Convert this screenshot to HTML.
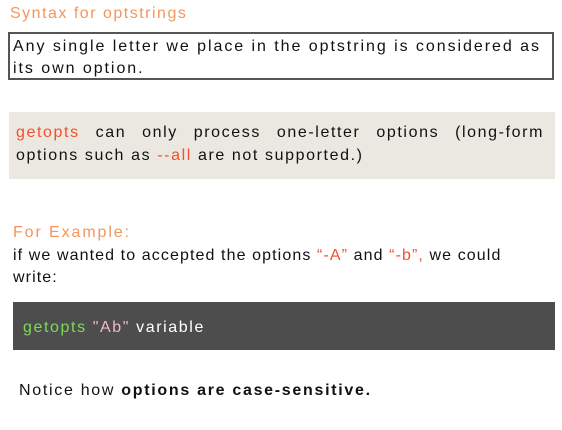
<!DOCTYPE html>
<html><head><style>
body{margin:0;width:562px;height:430px;background:#fff;font-family:"Liberation Sans",sans-serif;position:relative;overflow:hidden;color:#111}
.a{position:absolute;font-size:16px;letter-spacing:1.9px;white-space:nowrap}
.o{color:#f5955d}.r{color:#f2512b}
</style></head><body>
<div class="a o" style="left:10px;top:5px;font-size:16px;letter-spacing:1.5px">Syntax for optstrings</div>
<div style="position:absolute;left:8px;top:32px;width:542px;height:44px;border:2px solid #555"></div>
<div class="a" style="left:13px;top:36px;line-height:22px;letter-spacing:1.95px">Any single letter we place in the optstring is considered as<br>its own option.</div>
<div style="position:absolute;left:9px;top:112px;width:546px;height:67px;background:#ebe8e1"></div>
<div class="a" style="left:16px;top:121px;width:528px;line-height:23px;white-space:normal;text-align:justify;text-align-last:left;letter-spacing:1.6px"><span class="r">getopts</span> can only process one-letter options (long-form options such as <span class="r">--all</span> are not supported.)</div>
<div class="a o" style="left:13px;top:224px;letter-spacing:1.9px">For Example:</div>
<div class="a" style="left:13px;top:245px;line-height:22px;letter-spacing:1.1px">if we wanted to accepted the options <span class="r">“-A”</span> and <span class="r">“-b”,</span> we could<br>write:</div>
<div style="position:absolute;left:13px;top:302px;width:542px;height:48px;background:#4d4d4d"></div>
<div class="a" style="left:23px;top:319px;color:#fff;letter-spacing:1.6px"><span style="color:#7ed957">getopts</span> <span style="color:#f4b6c2">"Ab"</span> variable</div>
<div class="a" style="left:19px;top:382px;letter-spacing:1.7px">Notice how <b>options are case-sensitive.</b></div>
</body></html>
